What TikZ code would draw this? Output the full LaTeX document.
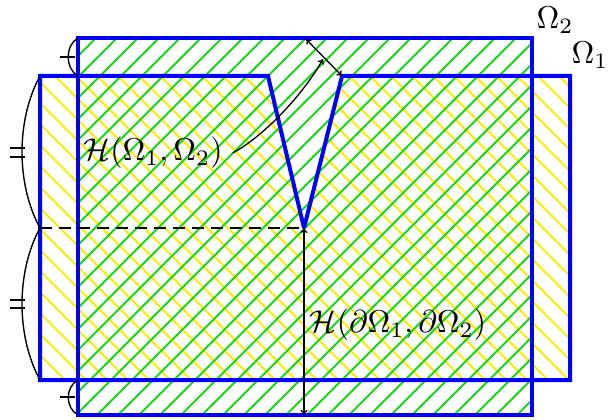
\documentclass[tikz,border=0pt]{standalone}
\usetikzlibrary{arrows.meta}
\definecolor{hgreen}{RGB}{20,220,20}
\definecolor{hyellow}{RGB}{255,235,0}
\definecolor{hblue}{RGB}{0,0,255}
\begin{document}
\begin{tikzpicture}[x=1pt,y=-1pt,
  outline/.style={draw=hblue, line width=4pt, line join=miter, miter limit=2},
  gline/.style={hgreen, line width=2pt},
  yline/.style={hyellow, line width=2pt},
  dimarrow/.style={line width=1.3pt, {To[length=5pt,width=7pt]}-{To[length=5pt,width=7pt]}},
  onearrow/.style={line width=1.3pt, -{To[length=5pt,width=7pt]}},
  arcline/.style={line width=1.4pt},
  tickline/.style={line width=1.4pt},
  dashline/.style={line width=1.4pt, dash pattern=on 12pt off 7pt},
  lbl/.style={scale=3.15, inner sep=3pt}]
\useasboundingbox (0,0) rectangle (608,420);
% Omega_2 corners
\coordinate (A) at (78,38);
\coordinate (B) at (532,38);
\coordinate (C) at (532,415);
\coordinate (D) at (78,415);
% Omega_1 corners
\coordinate (P1) at (40,76);
\coordinate (P2) at (268,76);
\coordinate (V) at (304,228);
\coordinate (P3) at (342,76);
\coordinate (P4) at (570,76);
\coordinate (P5) at (570,380);
\coordinate (P6) at (40,380);
% helpers
\coordinate (X1) at (78,76);
\coordinate (X2) at (78,380);
\coordinate (M) at (40,228);
\coordinate (ttop) at (306,39);
\coordinate (mid) at (323,59);
\coordinate (vb) at (304,415);
% yellow hatch of Omega_1
\begin{scope}
  \clip (P1)--(P2)--(V)--(P3)--(P4)--(P5)--(P6)--cycle;
  \foreach \i in {-21,...,30} \draw[yline] ({\i*21},0) -- ++(420,420);
\end{scope}
% green hatch of Omega_2
\begin{scope}
  \clip (A) rectangle (C);
  \foreach \i in {-21,...,30} \draw[gline] ({\i*21+8},420) -- ++(420,-420);
\end{scope}
% outlines
\draw[outline] (P1)--(P2)--(V)--(P3)--(P4)--(P5)--(P6)--cycle;
\draw[outline] (A)--(B)--(C)--(D)--cycle;
% dashed line and distances
\draw[dashline] (M) -- (V);
\draw[dimarrow] (V) -- (vb);
\draw[dimarrow] (ttop) -- (P3);
% labels
\node[lbl] (h1) at (153,153) {$\mathcal{H}(\Omega_1,\Omega_2)$};
\node[lbl] (h2) at (398,325) {$\mathcal{H}(\partial\Omega_1,\partial\Omega_2)$};
\node[lbl] (o2) at (555,20) {$\Omega_2$};
\node[lbl] (o1) at (590,55) {$\Omega_1$};
\draw[onearrow] (h1.east) .. controls (258,140) and (300,100) .. (mid);
% arcs with ticks
\draw[arcline] (A) .. controls (65,45) and (65,69) .. (X1);
\draw[arcline] (X2) .. controls (65,387) and (65,408) .. (D);
\draw[arcline] (P1) .. controls (16,120) and (16,184) .. (M);
\draw[arcline] (M) .. controls (16,272) and (16,336) .. (P6);
\draw[tickline] (60,57) -- (75,57);
\draw[tickline] (60,397) -- (75,397);
\draw[tickline] (10,148) -- (25,148);
\draw[tickline] (10,157) -- (25,157);
\draw[tickline] (10,300) -- (25,300);
\draw[tickline] (10,308) -- (25,308);
\end{tikzpicture}
\end{document}
